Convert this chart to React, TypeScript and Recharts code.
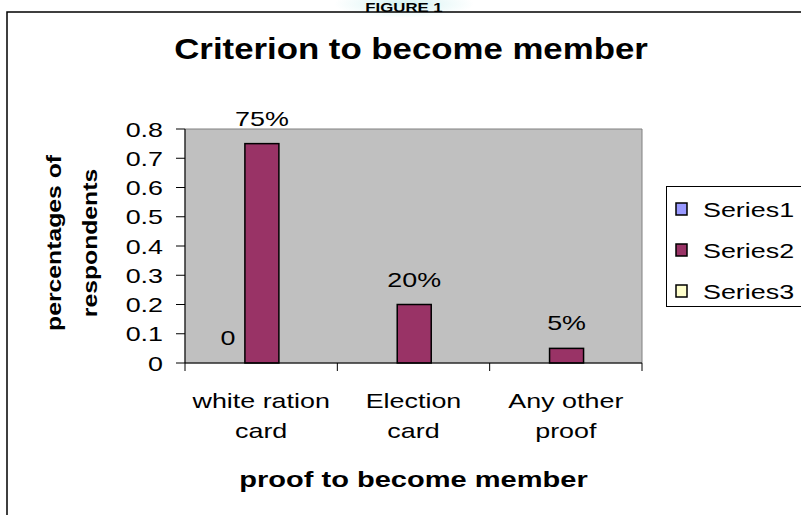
import React from "react";
import {
    BarChart,
    Bar,
    XAxis,
    YAxis,
    ReferenceArea,
} from "recharts";

const CATEGORIES = ["white ration card", "Election card", "Any other proof"];
const SERIES1 = [0, null, null];
const SERIES2 = [0.75, 0.2, 0.05];
const SERIES3 = [null, null, null];
const SERIES_NAMES = ["Series1", "Series2", "Series3"];
const SERIES_COLORS = ["#9999FF", "#993366", "#FFFFCC"];
const Y_TICKS = [0, 0.1, 0.2, 0.3, 0.4, 0.5, 0.6, 0.7, 0.8];

const FONT = "'Liberation Sans', Arial, sans-serif";
const SX = 1.28;

const W = 801;
const H = 515;
const PLOT_LEFT = 185;
const PLOT_TOP = 129;
const PLOT_RIGHT = 642;
const PLOT_BOTTOM = 363;
const Y_AXIS_W = 120;
const X_AXIS_H = 140;
const BAND = (PLOT_RIGHT - PLOT_LEFT) / CATEGORIES.length;

const rows = CATEGORIES.map((c, i) => ({
    category: c,
    s1: SERIES1[i],
    s2: SERIES2[i],
    s3: SERIES3[i],
}));

function SText({ x, y, sx = SX, children, ...rest }: any) {
    return (
        <g transform={`translate(${x},${y}) scale(${sx},1)`}>
            <text x={0} y={0} fontFamily={FONT} fill="#000" {...rest}>
                {children}
            </text>
        </g>
    );
}

function ValueTick(props: any) {
    const { x, y, payload } = props;
    return (
        <SText x={x} y={y} dy="0.36em" textAnchor="end" fontSize={21}>
            {String(payload.value)}
        </SText>
    );
}

function CategoryTick(props: any) {
    const { x, y, payload, index } = props;
    const label: string = payload.value;
    const cut = label.lastIndexOf(" ");
    const lines = [label.slice(0, cut), label.slice(cut + 1)];
    const left = x - BAND / 2;
    return (
        <g>
            <line x1={left} y1={y} x2={left} y2={y + 8} stroke="#000" />
            {index === CATEGORIES.length - 1 && (
                <line x1={left + BAND} y1={y} x2={left + BAND} y2={y + 8} stroke="#000" />
            )}
            {lines.map((t, i) => (
                <SText key={i} x={x} y={y + 45 + i * 30} textAnchor="middle" fontSize={21}>
                    {t}
                </SText>
            ))}
        </g>
    );
}

// bar shape that also writes the data label above the bar (zero bars included)
function labelledBar(format: (v: number) => string) {
    return (props: any) => {
        const { x, y, width, height, fill, stroke, strokeWidth, value } = props;
        const v = Array.isArray(value) ? value[1] - value[0] : value;
        if (v === null || v === undefined || Number.isNaN(v)) return <g />;
        return (
            <g>
                {height > 0 && (
                    <rect x={x} y={y} width={width} height={height} fill={fill} stroke={stroke} strokeWidth={strokeWidth} />
                )}
                <SText x={x + width / 2} y={y - 18} textAnchor="middle" fontSize={21}>
                    {format(v)}
                </SText>
            </g>
        );
    };
}

function XTitle(props: any) {
    const { viewBox } = props;
    return (
        <SText
            x={viewBox.x + viewBox.width / 2}
            y={PLOT_BOTTOM + 124}
            textAnchor="middle"
            fontSize={22}
            fontWeight="bold"
            sx={1.32}
        >
            proof to become member
        </SText>
    );
}

function YTitle(props: any) {
    const { viewBox } = props;
    const cy = viewBox.y + viewBox.height / 2 - 3;
    return (
        <g>
            {["percentages of", "respondents"].map((t, i) => (
                <g key={i} transform={`translate(${61 + i * 36},${cy}) rotate(-90) scale(1.27,1)`}>
                    <text x={0} y={0} textAnchor="middle" fontFamily={FONT} fontSize={19.5} fontWeight="bold" fill="#000">
                        {t}
                    </text>
                </g>
            ))}
        </g>
    );
}

function LegendBox() {
    return (
        <div
            style={{
                position: "absolute",
                left: 666,
                top: 186,
                width: 160,
                height: 119,
                border: "1px solid #000",
                background: "#fff",
            }}
        >
            <svg width={160} height={119}>
                {SERIES_NAMES.map((name, i) => {
                    const cy = 22 + i * 41;
                    return (
                        <g key={name}>
                            <rect x={9} y={cy - 6} width={11} height={12} fill={SERIES_COLORS[i]} stroke="#000" strokeWidth={1.5} />
                            <SText x={36} y={cy} dy="0.36em" fontSize={21}>
                                {name}
                            </SText>
                        </g>
                    );
                })}
            </svg>
        </div>
    );
}

export default function App() {
    return (
        <div
            style={{
                position: "absolute",
                left: 0,
                top: 0,
                width: W,
                height: H,
                overflow: "hidden",
                background: "#fff",
            }}
        >
            <svg width={W} height={H} style={{ position: "absolute", left: 0, top: 0 }}>
                <defs>
                    <radialGradient id="glow" cx="50%" cy="50%" r="50%">
                        <stop offset="0%" stopColor="#d4f2f2" />
                        <stop offset="100%" stopColor="#ffffff" />
                    </radialGradient>
                </defs>
                <ellipse cx={404} cy={4} rx={70} ry={14} fill="url(#glow)" />
                <SText x={404} y={11.5} textAnchor="middle" fontSize={12} fontWeight="bold" sx={1.4}>
                    FIGURE 1
                </SText>
                <rect x={7} y={12} width={900} height={600} fill="none" stroke="#000" strokeWidth={1.5} />
                <SText x={411} y={59} textAnchor="middle" fontSize={29} fontWeight="bold" sx={1.2}>
                    Criterion to become member
                </SText>
            </svg>
            <div style={{ position: "absolute", left: 0, top: 0 }}>
                <BarChart
                    width={W}
                    height={H}
                    data={rows}
                    margin={{
                        top: PLOT_TOP,
                        right: W - PLOT_RIGHT,
                        bottom: H - PLOT_BOTTOM - X_AXIS_H,
                        left: PLOT_LEFT - Y_AXIS_W,
                    }}
                    barCategoryGap="17%"
                    barGap={0}
                >
                    <ReferenceArea
                        y1={0}
                        y2={0.8}
                        fill="#C0C0C0"
                        fillOpacity={1}
                        stroke="#808080"
                        strokeWidth={1}
                    />
                    <XAxis
                        dataKey="category"
                        height={X_AXIS_H}
                        interval={0}
                        tickSize={0}
                        tickMargin={0}
                        tickLine={false}
                        tick={CategoryTick}
                        axisLine={{ stroke: "#000", strokeWidth: 1 }}
                        label={{ content: XTitle }}
                    />
                    <YAxis
                        width={Y_AXIS_W}
                        domain={[0, 0.8]}
                        ticks={Y_TICKS}
                        interval={0}
                        tickSize={9}
                        tickMargin={13}
                        tick={ValueTick}
                        tickLine={{ stroke: "#000" }}
                        axisLine={{ stroke: "#000", strokeWidth: 1 }}
                        label={{ content: YTitle }}
                    />
                    <Bar
                        dataKey="s1"
                        name={SERIES_NAMES[0]}
                        fill={SERIES_COLORS[0]}
                        stroke="#000"
                        strokeWidth={1.5}
                        isAnimationActive={false}
                        shape={labelledBar((v) => String(v))}
                    />
                    <Bar
                        dataKey="s2"
                        name={SERIES_NAMES[1]}
                        fill={SERIES_COLORS[1]}
                        stroke="#000"
                        strokeWidth={1.5}
                        isAnimationActive={false}
                        shape={labelledBar((v) => `${Math.round(v * 100)}%`)}
                    />
                    <Bar
                        dataKey="s3"
                        name={SERIES_NAMES[2]}
                        fill={SERIES_COLORS[2]}
                        stroke="#000"
                        strokeWidth={1.5}
                        isAnimationActive={false}
                        shape={labelledBar((v) => String(v))}
                    />
                </BarChart>
            </div>
            <LegendBox />
        </div>
    );
}
